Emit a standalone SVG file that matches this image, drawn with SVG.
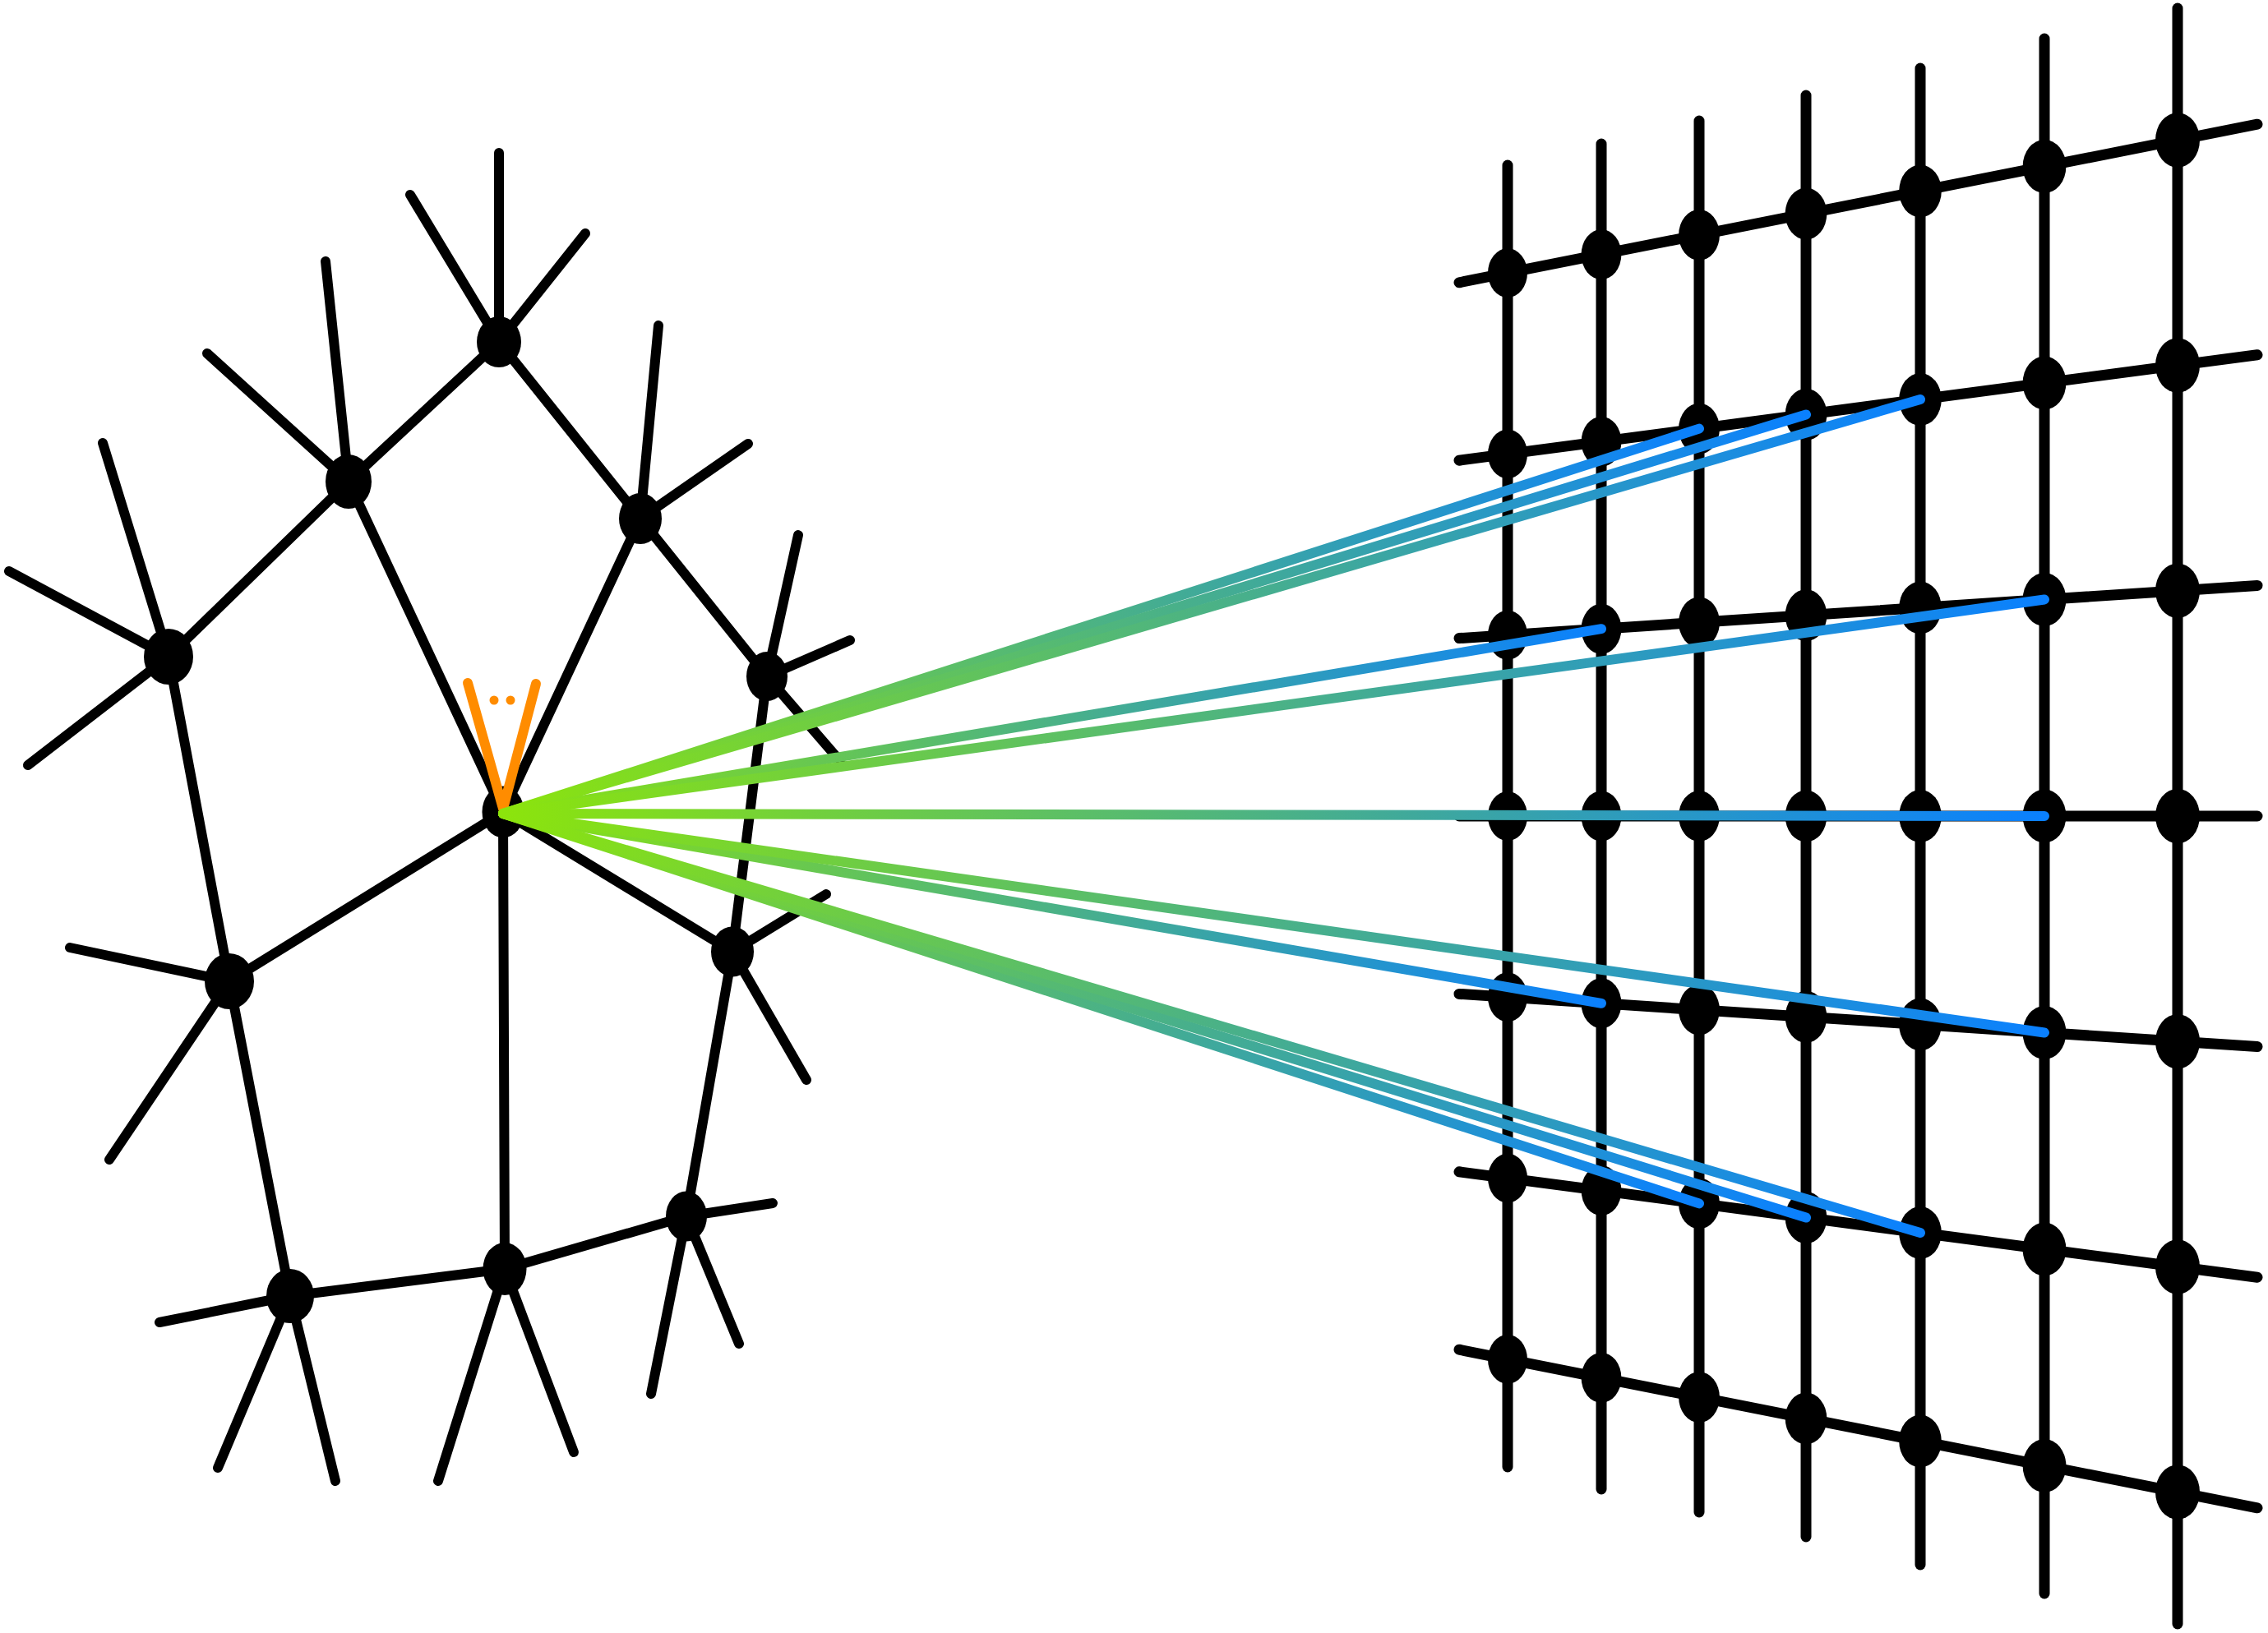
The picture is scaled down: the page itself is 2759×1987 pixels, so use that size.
<svg xmlns="http://www.w3.org/2000/svg" width="2759" height="1987" viewBox="0 0 2759 1987">
<style>
.e{stroke:#000;stroke-width:12;stroke-linecap:round;fill:none}
.g{stroke:#000;stroke-width:13;stroke-linecap:round;fill:none}
.n{fill:#000}
.o{stroke:#FF8C00;stroke-width:12;stroke-linecap:round;stroke-linejoin:round;fill:none}
.od{fill:#FF8C00}
.r{stroke-width:12;stroke-linecap:round;fill:none}
</style>
<defs>
<linearGradient id="gA" gradientUnits="userSpaceOnUse" x1="612" y1="990" x2="2067" y2="521.6"><stop offset="0" stop-color="#8CE40C"/><stop offset="1" stop-color="#0A80FF"/></linearGradient>
<linearGradient id="gB" gradientUnits="userSpaceOnUse" x1="612" y1="990" x2="2197" y2="504.4"><stop offset="0" stop-color="#8CE40C"/><stop offset="1" stop-color="#0A80FF"/></linearGradient>
<linearGradient id="gC" gradientUnits="userSpaceOnUse" x1="612" y1="990" x2="2336" y2="486"><stop offset="0" stop-color="#8CE40C"/><stop offset="1" stop-color="#0A80FF"/></linearGradient>
<linearGradient id="gD" gradientUnits="userSpaceOnUse" x1="612" y1="990" x2="1948" y2="765.2"><stop offset="0" stop-color="#8CE40C"/><stop offset="1" stop-color="#0A80FF"/></linearGradient>
<linearGradient id="gE" gradientUnits="userSpaceOnUse" x1="612" y1="990" x2="2487" y2="729.5"><stop offset="0" stop-color="#8CE40C"/><stop offset="1" stop-color="#0A80FF"/></linearGradient>
<linearGradient id="gF" gradientUnits="userSpaceOnUse" x1="612" y1="990" x2="2487" y2="993"><stop offset="0" stop-color="#8CE40C"/><stop offset="1" stop-color="#0A80FF"/></linearGradient>
<linearGradient id="gG" gradientUnits="userSpaceOnUse" x1="612" y1="990" x2="1948" y2="1220.8"><stop offset="0" stop-color="#8CE40C"/><stop offset="1" stop-color="#0A80FF"/></linearGradient>
<linearGradient id="gH" gradientUnits="userSpaceOnUse" x1="612" y1="990" x2="2487" y2="1256.5"><stop offset="0" stop-color="#8CE40C"/><stop offset="1" stop-color="#0A80FF"/></linearGradient>
<linearGradient id="gI" gradientUnits="userSpaceOnUse" x1="612" y1="990" x2="2067" y2="1464.4"><stop offset="0" stop-color="#8CE40C"/><stop offset="1" stop-color="#0A80FF"/></linearGradient>
<linearGradient id="gJ" gradientUnits="userSpaceOnUse" x1="612" y1="990" x2="2197" y2="1481.6"><stop offset="0" stop-color="#8CE40C"/><stop offset="1" stop-color="#0A80FF"/></linearGradient>
<linearGradient id="gK" gradientUnits="userSpaceOnUse" x1="612" y1="990" x2="2336" y2="1500"><stop offset="0" stop-color="#8CE40C"/><stop offset="1" stop-color="#0A80FF"/></linearGradient>
</defs>
<rect width="2759" height="1987" fill="#fff"/>
<g id="connectors">
<g id="graph-edges">
<line class="e" x1="607" y1="416" x2="424" y2="586"/>
<line class="e" x1="607" y1="416" x2="779" y2="631"/>
<line class="e" x1="424" y1="586" x2="205" y2="799"/>
<line class="e" x1="424" y1="586" x2="612" y2="988"/>
<line class="e" x1="779" y1="631" x2="612" y2="988"/>
<line class="e" x1="779" y1="631" x2="933" y2="823"/>
<line class="e" x1="933" y1="823" x2="891" y2="1158"/>
<line class="e" x1="205" y1="799" x2="279" y2="1194"/>
<line class="e" x1="612" y1="988" x2="279" y2="1194"/>
<line class="e" x1="612" y1="988" x2="891" y2="1158"/>
<line class="e" x1="612" y1="988" x2="614" y2="1544"/>
<line class="e" x1="279" y1="1194" x2="353" y2="1577"/>
<line class="e" x1="891" y1="1158" x2="835" y2="1480"/>
<line class="e" x1="835" y1="1480" x2="614" y2="1544"/>
<line class="e" x1="614" y1="1544" x2="353" y2="1577"/>
</g>
<g id="graph-stubs">
<line class="e" x1="607" y1="416" x2="499" y2="237"/>
<line class="e" x1="607" y1="416" x2="607" y2="186"/>
<line class="e" x1="607" y1="416" x2="712" y2="284"/>
<line class="e" x1="424" y1="586" x2="252" y2="430"/>
<line class="e" x1="424" y1="586" x2="396" y2="318"/>
<line class="e" x1="779" y1="631" x2="801" y2="396"/>
<line class="e" x1="779" y1="631" x2="910" y2="540"/>
<line class="e" x1="205" y1="799" x2="125" y2="539"/>
<line class="e" x1="205" y1="799" x2="11" y2="695"/>
<line class="e" x1="205" y1="799" x2="34" y2="931"/>
<line class="e" x1="933" y1="823" x2="971" y2="651"/>
<line class="e" x1="933" y1="823" x2="1034" y2="779"/>
<line class="e" x1="933" y1="823" x2="1022" y2="926"/>
<line class="e" x1="891" y1="1158" x2="1005" y2="1088"/>
<line class="e" x1="891" y1="1158" x2="981" y2="1314"/>
<line class="e" x1="279" y1="1194" x2="85" y2="1153"/>
<line class="e" x1="279" y1="1194" x2="133" y2="1411"/>
<line class="e" x1="835" y1="1480" x2="940" y2="1464"/>
<line class="e" x1="835" y1="1480" x2="792" y2="1696"/>
<line class="e" x1="835" y1="1480" x2="899" y2="1635"/>
<line class="e" x1="614" y1="1544" x2="533" y2="1802"/>
<line class="e" x1="614" y1="1544" x2="698" y2="1767"/>
<line class="e" x1="353" y1="1577" x2="194" y2="1609"/>
<line class="e" x1="353" y1="1577" x2="265" y2="1786"/>
<line class="e" x1="353" y1="1577" x2="408" y2="1802"/>
</g>
<g id="grid-columns">
<line class="g" x1="1834" y1="201" x2="1834" y2="1785"/>
<line class="g" x1="1948" y1="175" x2="1948" y2="1812"/>
<line class="g" x1="2067" y1="147" x2="2067" y2="1840"/>
<line class="g" x1="2197" y1="116" x2="2197" y2="1870"/>
<line class="g" x1="2336" y1="83" x2="2336" y2="1904"/>
<line class="g" x1="2487" y1="47" x2="2487" y2="1939"/>
<line class="g" x1="2649" y1="10" x2="2649" y2="1976"/>
</g>
<g id="grid-rows">
<line class="g" x1="1775" y1="343.8" x2="2746" y2="151.2"/>
<line class="g" x1="1775" y1="560.2" x2="2746" y2="431.8"/>
<line class="g" x1="1775" y1="776.6" x2="2746" y2="712.4"/>
<line class="g" x1="1775" y1="993" x2="2746" y2="993"/>
<line class="g" x1="1775" y1="1209.4" x2="2746" y2="1273.6"/>
<line class="g" x1="1775" y1="1425.8" x2="2746" y2="1554.2"/>
<line class="g" x1="1775" y1="1642.2" x2="2746" y2="1834.8"/>
</g>
</g>
<g id="graph-nodes">
<g id="node-t"><ellipse class="n" cx="607" cy="416" rx="27" ry="31"/></g>
<g id="node-a"><ellipse class="n" cx="424" cy="586" rx="28" ry="33"/></g>
<g id="node-b"><ellipse class="n" cx="779" cy="631" rx="26" ry="31"/></g>
<g id="node-l"><ellipse class="n" cx="205" cy="799" rx="30" ry="34"/></g>
<g id="node-c"><ellipse class="n" cx="933" cy="823" rx="25" ry="30"/></g>
<g id="node-x"><ellipse class="n" cx="612" cy="988" rx="25.5" ry="31.5"/></g>
<g id="node-d"><ellipse class="n" cx="891" cy="1158" rx="26" ry="30.5"/></g>
<g id="node-e"><ellipse class="n" cx="279" cy="1194" rx="30" ry="34"/></g>
<g id="node-f"><ellipse class="n" cx="835" cy="1480" rx="25" ry="30.5"/></g>
<g id="node-g"><ellipse class="n" cx="614" cy="1544" rx="26.5" ry="32"/></g>
<g id="node-h"><ellipse class="n" cx="353" cy="1577" rx="29" ry="33"/></g>
</g>
<g id="grid-nodes">
<g id="c1"><ellipse class="n" cx="1834" cy="332.1" rx="24" ry="30"/><ellipse class="n" cx="1834" cy="552.4" rx="24" ry="30"/><ellipse class="n" cx="1834" cy="772.7" rx="24" ry="30"/><ellipse class="n" cx="1834" cy="993" rx="24" ry="30"/><ellipse class="n" cx="1834" cy="1213.3" rx="24" ry="30"/><ellipse class="n" cx="1834" cy="1433.6" rx="24" ry="30"/><ellipse class="n" cx="1834" cy="1653.9" rx="24" ry="30"/></g>
<g id="c2"><ellipse class="n" cx="1948" cy="309.6" rx="24.4" ry="30.5"/><ellipse class="n" cx="1948" cy="537.4" rx="24.4" ry="30.5"/><ellipse class="n" cx="1948" cy="765.2" rx="24.4" ry="30.5"/><ellipse class="n" cx="1948" cy="993" rx="24.4" ry="30.5"/><ellipse class="n" cx="1948" cy="1220.8" rx="24.4" ry="30.5"/><ellipse class="n" cx="1948" cy="1448.6" rx="24.4" ry="30.5"/><ellipse class="n" cx="1948" cy="1676.4" rx="24.4" ry="30.5"/></g>
<g id="c3"><ellipse class="n" cx="2067" cy="285.9" rx="24.9" ry="30.9"/><ellipse class="n" cx="2067" cy="521.6" rx="24.9" ry="30.9"/><ellipse class="n" cx="2067" cy="757.3" rx="24.9" ry="30.9"/><ellipse class="n" cx="2067" cy="993" rx="24.9" ry="30.9"/><ellipse class="n" cx="2067" cy="1228.7" rx="24.9" ry="30.9"/><ellipse class="n" cx="2067" cy="1464.4" rx="24.9" ry="30.9"/><ellipse class="n" cx="2067" cy="1700.1" rx="24.9" ry="30.9"/></g>
<g id="c4"><ellipse class="n" cx="2197" cy="260.1" rx="25.3" ry="31.5"/><ellipse class="n" cx="2197" cy="504.4" rx="25.3" ry="31.5"/><ellipse class="n" cx="2197" cy="748.7" rx="25.3" ry="31.5"/><ellipse class="n" cx="2197" cy="993" rx="25.3" ry="31.5"/><ellipse class="n" cx="2197" cy="1237.3" rx="25.3" ry="31.5"/><ellipse class="n" cx="2197" cy="1481.6" rx="25.3" ry="31.5"/><ellipse class="n" cx="2197" cy="1725.9" rx="25.3" ry="31.5"/></g>
<g id="c5"><ellipse class="n" cx="2336" cy="232.5" rx="25.8" ry="32"/><ellipse class="n" cx="2336" cy="486" rx="25.8" ry="32"/><ellipse class="n" cx="2336" cy="739.5" rx="25.8" ry="32"/><ellipse class="n" cx="2336" cy="993" rx="25.8" ry="32"/><ellipse class="n" cx="2336" cy="1246.5" rx="25.8" ry="32"/><ellipse class="n" cx="2336" cy="1500" rx="25.8" ry="32"/><ellipse class="n" cx="2336" cy="1753.5" rx="25.8" ry="32"/></g>
<g id="c6"><ellipse class="n" cx="2487" cy="202.5" rx="26.4" ry="32.6"/><ellipse class="n" cx="2487" cy="466" rx="26.4" ry="32.6"/><ellipse class="n" cx="2487" cy="729.5" rx="26.4" ry="32.6"/><ellipse class="n" cx="2487" cy="993" rx="26.4" ry="32.6"/><ellipse class="n" cx="2487" cy="1256.5" rx="26.4" ry="32.6"/><ellipse class="n" cx="2487" cy="1520" rx="26.4" ry="32.6"/><ellipse class="n" cx="2487" cy="1783.5" rx="26.4" ry="32.6"/></g>
<g id="c7"><ellipse class="n" cx="2649" cy="170.4" rx="27" ry="33.3"/><ellipse class="n" cx="2649" cy="444.6" rx="27" ry="33.3"/><ellipse class="n" cx="2649" cy="718.8" rx="27" ry="33.3"/><ellipse class="n" cx="2649" cy="993" rx="27" ry="33.3"/><ellipse class="n" cx="2649" cy="1267.2" rx="27" ry="33.3"/><ellipse class="n" cx="2649" cy="1541.4" rx="27" ry="33.3"/><ellipse class="n" cx="2649" cy="1815.6" rx="27" ry="33.3"/></g>
</g>
<g id="orange-mark">
<polyline class="o" points="569,831 612,984 652,832"/>
<circle class="od" cx="601" cy="852" r="5.5"/>
<circle class="od" cx="621" cy="852" r="5.5"/>
</g>
<g id="rays">
<line class="r" stroke="url(#gA)" x1="612" y1="990" x2="2067" y2="521.6"/>
<line class="r" stroke="url(#gB)" x1="612" y1="990" x2="2197" y2="504.4"/>
<line class="r" stroke="url(#gC)" x1="612" y1="990" x2="2336" y2="486"/>
<line class="r" stroke="url(#gD)" x1="612" y1="990" x2="1948" y2="765.2"/>
<line class="r" stroke="url(#gE)" x1="612" y1="990" x2="2487" y2="729.5"/>
<line class="r" stroke="url(#gF)" x1="612" y1="990" x2="2487" y2="993"/>
<line class="r" stroke="url(#gG)" x1="612" y1="990" x2="1948" y2="1220.8"/>
<line class="r" stroke="url(#gH)" x1="612" y1="990" x2="2487" y2="1256.5"/>
<line class="r" stroke="url(#gI)" x1="612" y1="990" x2="2067" y2="1464.4"/>
<line class="r" stroke="url(#gJ)" x1="612" y1="990" x2="2197" y2="1481.6"/>
<line class="r" stroke="url(#gK)" x1="612" y1="990" x2="2336" y2="1500"/>
</g>
</svg>
